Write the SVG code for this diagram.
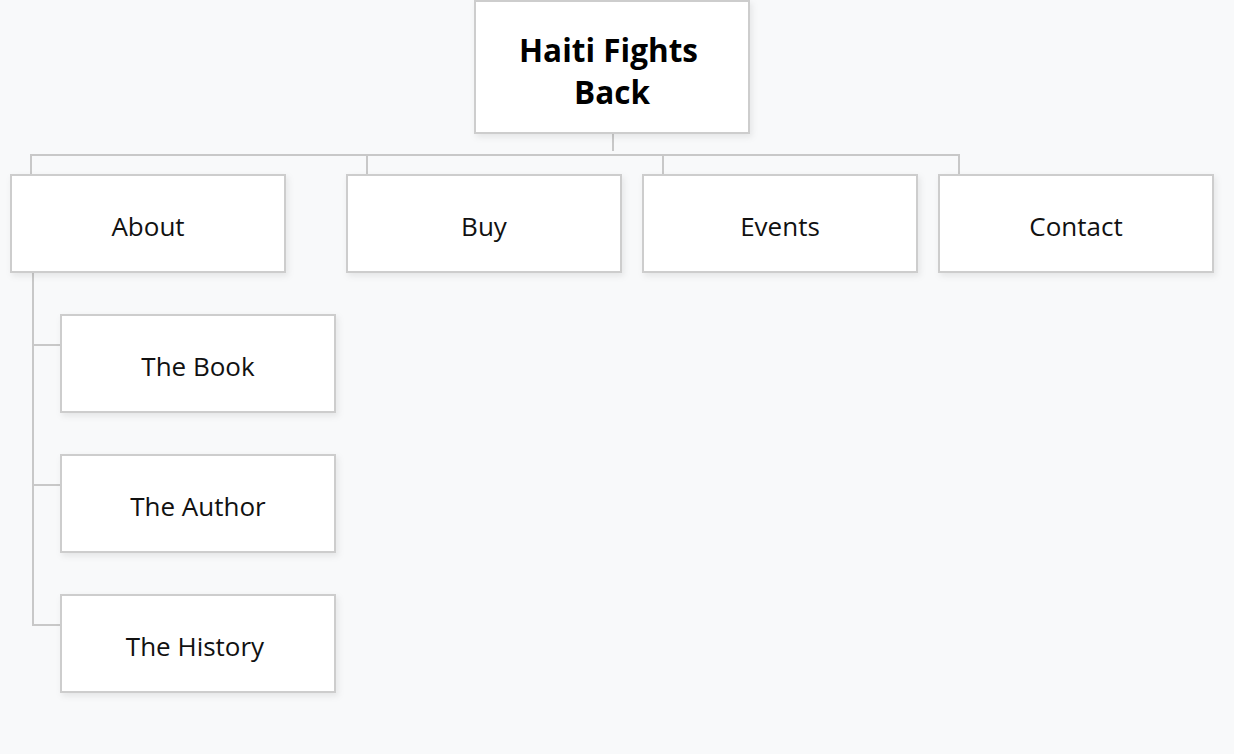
<svg xmlns="http://www.w3.org/2000/svg" width="1234" height="754" viewBox="0 0 1234 754">
<defs>
<filter id="sh" x="-10%" y="-10%" width="125%" height="130%">
<feDropShadow dx="2" dy="3" stdDeviation="3" flood-color="#000" flood-opacity="0.08"/>
</filter>
</defs>
<style>
.box{fill:#fff;stroke:#cdcdcd;stroke-width:2;filter:url(#sh)}
.t{font-family:"Open Sans","Noto Sans",sans-serif;font-size:26px;fill:#111;text-anchor:middle}
.tb{font-family:"Open Sans","Noto Sans",sans-serif;font-size:31.5px;font-weight:bold;fill:#000;text-anchor:middle}
.c{fill:none;stroke:#c8c8c8;stroke-width:2}
</style>
<rect width="1234" height="754" fill="#f8f9fa"/>
<g id="connectors">
<path class="c" d="M613 133V151"/>
<path class="c" d="M31 175V155H959V175"/>
<path class="c" d="M367 155V175"/>
<path class="c" d="M663 155V175"/>
<path class="c" d="M33 272V345H61"/>
<path class="c" d="M33 272V485H61"/>
<path class="c" d="M33 272V625H61"/>
</g>
<g id="root">
<rect class="box" x="475" y="1" width="274" height="132"/>
<text class="tb" x="608.5" y="62">Haiti Fights</text>
<text class="tb" x="612" y="104">Back</text>
</g>
<g id="about">
<rect class="box" x="11" y="175" width="274" height="97"/>
<text class="t" x="148" y="236">About</text>
</g>
<g id="buy">
<rect class="box" x="347" y="175" width="274" height="97"/>
<text class="t" x="484" y="236">Buy</text>
</g>
<g id="events">
<rect class="box" x="643" y="175" width="274" height="97"/>
<text class="t" x="780" y="236">Events</text>
</g>
<g id="contact">
<rect class="box" x="939" y="175" width="274" height="97"/>
<text class="t" x="1076" y="236">Contact</text>
</g>
<g id="the-book">
<rect class="box" x="61" y="315" width="274" height="97"/>
<text class="t" x="198" y="376">The Book</text>
</g>
<g id="the-author">
<rect class="box" x="61" y="455" width="274" height="97"/>
<text class="t" x="198" y="516">The Author</text>
</g>
<g id="the-history">
<rect class="box" x="61" y="595" width="274" height="97"/>
<text class="t" x="195" y="656">The History</text>
</g>
</svg>
